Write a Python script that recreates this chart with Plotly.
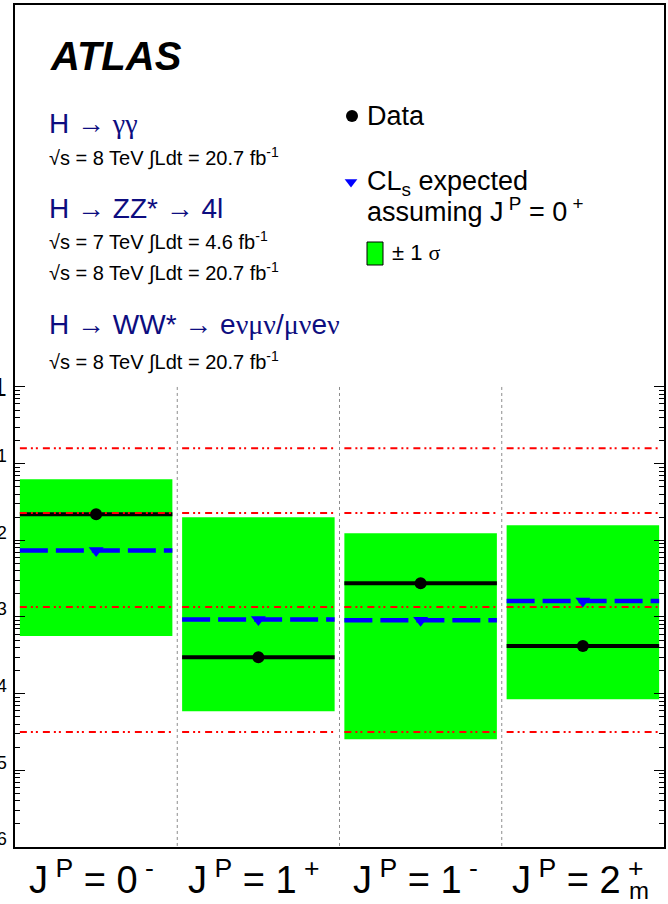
import plotly.graph_objects as go

# Tested spin-parity hypotheses (alternative to the SM 0+)
jp_spin = ["0", "1", "1", "2"]
jp_parity = ["-", "+", "-", "+"]
jp_subscript = ["", "", "", "m"]

# CLs(J^P = 0+) for each alternative hypothesis
cls_observed = [0.0219, 2.98e-4, 2.75e-3, 4.19e-4]
cls_expected = [7.35e-3, 9.3e-4, 9.06e-4, 1.62e-3]
cls_band_high = [0.0626, 0.0200, 0.01236, 0.0157]
cls_band_low = [5.65e-4, 5.9e-5, 2.54e-5, 8.45e-5]

# one-sided p-values of the 1, 2, 3 and 4 sigma reference lines
sigma_pvalues = [0.158655, 0.0227501, 0.0013499, 3.16712e-5]

cls_tick_vals = [1, 1e-1, 1e-2, 1e-3, 1e-4, 1e-5, 1e-6]
cls_tick_text = ["1", "10<sup>-1</sup>", "10<sup>-2</sup>", "10<sup>-3</sup>",
                 "10<sup>-4</sup>", "10<sup>-5</sup>", "10<sup>-6</sup>"]

W, H = 668, 904
ML, MR, MT, MB = 15, 4, 5, 57
FONT = "Liberation Sans, Arial, Helvetica, sans-serif"
SERIF = "Liberation Serif, Times New Roman, serif"
NAVY = "#0d0d80"

n = len(jp_spin)
half = 0.47
minor_vals = [m * 10.0 ** k for k in range(-6, 0) for m in range(2, 10)]

fig = go.Figure()

# +-1 sigma bands of the expected CLs
for i in range(n):
    xl, xr = i - half, i + half
    fig.add_trace(go.Scatter(
        x=[xl, xr, xr, xl, xl],
        y=[cls_band_low[i], cls_band_low[i], cls_band_high[i], cls_band_high[i], cls_band_low[i]],
        mode="lines", fill="toself", fillcolor="#00ff00",
        line=dict(width=0, color="#00ff00"), hoverinfo="skip", showlegend=False))

# dotted separators between hypotheses
for i in range(n - 1):
    fig.add_trace(go.Scatter(
        x=[i + 0.5, i + 0.5], y=[cls_tick_vals[0], cls_tick_vals[-1]], mode="lines",
        line=dict(color="#8c8c8c", width=1, dash="dot"), hoverinfo="skip", showlegend=False))


def segments(values):
    xs, ys = [], []
    for i, v in enumerate(values):
        xs += [i - half, i + half, None]
        ys += [v, v, None]
    return xs, ys


# observed (solid black) and expected (dashed blue) CLs
xs, ys = segments(cls_observed)
fig.add_trace(go.Scatter(x=xs, y=ys, mode="lines", line=dict(color="black", width=4),
                         hoverinfo="skip", showlegend=False))
xs, ys = segments(cls_expected)
fig.add_trace(go.Scatter(x=xs, y=ys, mode="lines",
                         line=dict(color="#0000ff", width=4.5, dash="28px,8px"),
                         hoverinfo="skip", showlegend=False))

# sigma reference lines, one segment per hypothesis
for p in sigma_pvalues:
    xs, ys = segments([p] * n)
    fig.add_trace(go.Scatter(x=xs, y=ys, mode="lines",
                             line=dict(color="#ff0000", width=2, dash="7px,4px,2px,3px,2px,5px"),
                             hoverinfo="skip", showlegend=False))

fig.add_trace(go.Scatter(x=list(range(n)), y=cls_observed, mode="markers",
                         marker=dict(symbol="circle", size=12, color="black"),
                         name="Data", showlegend=False))
fig.add_trace(go.Scatter(x=list(range(n)), y=cls_expected, mode="markers",
                         marker=dict(symbol="triangle-down", size=13, color="#0000ff"),
                         name="CLs expected", showlegend=False))

# legend symbols drawn on a pixel-space overlay
fig.add_trace(go.Scatter(x=[352], y=[116], xaxis="x2", yaxis="y2", mode="markers",
                         marker=dict(symbol="circle", size=12, color="black"),
                         hoverinfo="skip", showlegend=False))
fig.add_trace(go.Scatter(x=[351], y=[182], xaxis="x2", yaxis="y2", mode="markers",
                         marker=dict(symbol="triangle-down", size=11, color="#0000ff"),
                         hoverinfo="skip", showlegend=False))
fig.add_trace(go.Scatter(x=[367, 383, 383, 367, 367], y=[242, 242, 265, 265, 242],
                         xaxis="x2", yaxis="y2", mode="lines", fill="toself",
                         fillcolor="#00ff00", line=dict(color="black", width=1),
                         hoverinfo="skip", showlegend=False))

annotations = []


def text(x, y, s, size, color="black", xref="x2", yref="y2", xanchor="left"):
    annotations.append(dict(x=x, y=y, xref=xref, yref=yref, text=s, showarrow=False,
                            xanchor=xanchor, yanchor="middle",
                            font=dict(family=FONT, size=size, color=color)))


def greek(s):
    return f'<span style="font-family:{SERIF}">{s}</span>'


def paper_y(py):
    return (H - MB - py) / (H - MB - MT)


lumi8 = "√s = 8 TeV ∫Ldt = 20.7 fb<sup>-1</sup>"
lumi7 = "√s = 7 TeV ∫Ldt = 4.6 fb<sup>-1</sup>"

text(48, 56, "<b><i>ATLAS</i></b>", 40)
text(47, 123, "H → " + greek("γγ"), 28, NAVY)
text(47, 157, lumi8, 20)
text(47, 208, "H → ZZ* → 4l", 28, NAVY)
text(47, 241, lumi7, 20)
text(47, 272, lumi8, 20)
text(47, 324, "H → WW* → e" + greek("ν") + greek("μν") + "/" + greek("μν") + "e" + greek("ν"), 28, NAVY)
text(47, 361, lumi8, 20)

text(365, 116, "Data", 27)
text(365, 183, "CL<sub>s</sub> expected", 27)
text(365, 210, "assuming J<sup> P</sup> = 0<sup> +</sup>", 27)
text(390, 252, "± 1 " + greek("σ"), 22)

# hypothesis labels under the axis
for i in range(n):
    text(i - 0.03, paper_y(877), f"J<sup> P</sup> = {jp_spin[i]}<sup> {jp_parity[i]}</sup>", 38,
         xref="x", yref="paper", xanchor="center")
    if jp_subscript[i]:
        text(i + 0.27, paper_y(890), jp_subscript[i], 24, xref="x", yref="paper")

fig.update_layout(
    width=W, height=H, autosize=False,
    margin=dict(l=ML, r=MR, t=MT, b=MB, pad=0),
    paper_bgcolor="white", plot_bgcolor="white", showlegend=False,
    font=dict(family=FONT, color="black"),
    xaxis=dict(range=[-0.5, n - 0.5], showgrid=False, zeroline=False, showline=True,
               linecolor="black", linewidth=2, mirror=True, ticks="", showticklabels=False),
    yaxis=dict(type="log", range=[-6, 4.982], showgrid=False, zeroline=False, showline=True,
               linecolor="black", linewidth=2, mirror="ticks", ticks="inside", ticklen=10,
               tickwidth=1, tickcolor="black", tickvals=cls_tick_vals, ticktext=cls_tick_text,
               tickfont=dict(family=FONT, size=26), ticklabelstandoff=1, automargin=False,
               minor=dict(tickvals=minor_vals, ticks="inside", ticklen=5, tickwidth=1,
                          tickcolor="black", showgrid=False)),
    xaxis2=dict(overlaying="x", range=[ML, W - MR], visible=False),
    yaxis2=dict(overlaying="y", range=[H - MB, MT], visible=False),
    annotations=annotations,
)

fig.write_html("out.html")
